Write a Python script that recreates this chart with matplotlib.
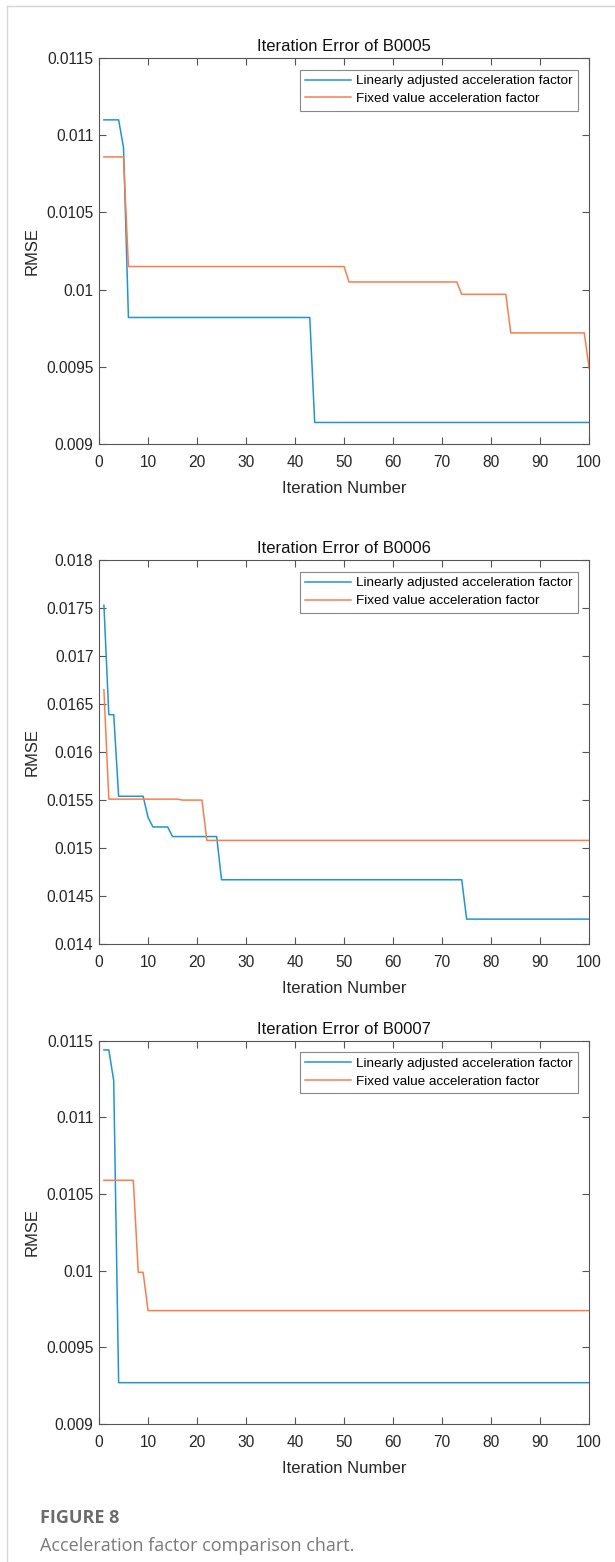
import numpy as np
import matplotlib
matplotlib.use("Agg")
import matplotlib.pyplot as plt
from matplotlib.lines import Line2D
from matplotlib.ticker import FuncFormatter

# iteration axis
iters = np.arange(1, 101)

# RMSE levels per run of iterations (value, number of iterations)
b5_linear_vals = [0.01110, 0.01092, 0.00982, 0.00914]
b5_linear_runs = [4, 1, 38, 57]
b5_fixed_vals = [0.01086, 0.01015, 0.01005, 0.00997, 0.00972, 0.00949]
b5_fixed_runs = [5, 45, 23, 10, 16, 1]

b6_linear_vals = [0.01753, 0.01639, 0.01554, 0.01532, 0.01522, 0.01512, 0.01467, 0.01426]
b6_linear_runs = [1, 2, 6, 1, 4, 10, 50, 26]
b6_fixed_vals = [0.01665, 0.01551, 0.01550, 0.01508]
b6_fixed_runs = [1, 15, 5, 79]

b7_linear_vals = [0.01144, 0.01124, 0.00927]
b7_linear_runs = [2, 1, 97]
b7_fixed_vals = [0.01059, 0.00999, 0.00974]
b7_fixed_runs = [7, 2, 91]

titles = ["Iteration Error of B0005", "Iteration Error of B0006", "Iteration Error of B0007"]
ylims = [(0.009, 0.0115), (0.014, 0.018), (0.009, 0.0115)]
series_labels = ["Linearly adjusted acceleration factor", "Fixed value acceleration factor"]

blue = "#1f95d6"
orange = "#fb7d4e"

plt.rcParams['font.family'] = ['Liberation Sans', 'DejaVu Sans']

fig = plt.figure(figsize=(6.15, 15.62), dpi=100)

# axes boxes in figure fractions
boxes = [
    [0.161, 0.7157, 0.797, 0.2471],
    [0.161, 0.3956, 0.797, 0.2458],
    [0.161, 0.0883, 0.797, 0.2454],
]

data = [
    (b5_linear_vals, b5_linear_runs, b5_fixed_vals, b5_fixed_runs),
    (b6_linear_vals, b6_linear_runs, b6_fixed_vals, b6_fixed_runs),
    (b7_linear_vals, b7_linear_runs, b7_fixed_vals, b7_fixed_runs),
]


def fmt(v, pos):
    return "%g" % round(v, 6)


for box, title, ylim, (lv, lr, fv, fr) in zip(boxes, titles, ylims, data):
    ax = fig.add_axes(box)
    lin = np.repeat(lv, lr)
    fix = np.repeat(fv, fr)
    ax.plot(iters, lin, color=blue, lw=1.1, label=series_labels[0])
    ax.plot(iters, fix, color=orange, lw=1.1, label=series_labels[1])

    ax.set_xlim(0, 100)
    ax.set_ylim(*ylim)
    ax.set_xticks(np.arange(0, 101, 10))
    ax.set_yticks(np.arange(ylim[0], ylim[1] + 1e-9, 0.0005))
    ax.yaxis.set_major_formatter(FuncFormatter(fmt))
    ax.tick_params(direction="in", length=5, width=0.8, top=True, right=True,
                   labelsize=11.2, colors="#555555", labelcolor="#262626", pad=4)
    ax.tick_params(axis="x", pad=8)
    for s in ax.spines.values():
        s.set_color("#555555")
        s.set_linewidth(0.8)

    ax.set_title(title, fontsize=12, color="#111111", pad=5)
    ax.set_xlabel("Iteration Number", fontsize=12, color="#262626", labelpad=8)
    ax.set_ylabel("RMSE", fontsize=12, color="#262626", labelpad=5)

    leg = ax.legend(loc="upper right", fontsize=9.7, fancybox=False, framealpha=1,
                    borderaxespad=0.85, handlelength=3.4, handletextpad=0.35,
                    borderpad=0.4, labelspacing=0.4)
    leg.get_frame().set_edgecolor("#888888")
    leg.get_frame().set_linewidth(0.8)

# page frame lines
fig.add_artist(Line2D([7 / 615, 7 / 615], [0, 1 - 6 / 1562], color="#d6d6d6", lw=1.0))
fig.add_artist(Line2D([7 / 615, 1], [1 - 6 / 1562, 1 - 6 / 1562], color="#d6d6d6", lw=1.0))

# caption
fig.text(40 / 615, 1 - 1518 / 1562, "FIGURE 8", fontsize=13, fontweight="bold",
         color="#6b6b6b", family=["Open Sans", "DejaVu Sans"], va="center")
fig.text(40 / 615, 1 - 1546 / 1562, "Acceleration factor comparison chart.", fontsize=13,
         color="#7a7a7a", family=["Open Sans", "DejaVu Sans"], va="center")

fig.savefig("out.png", dpi=100, facecolor="white")
